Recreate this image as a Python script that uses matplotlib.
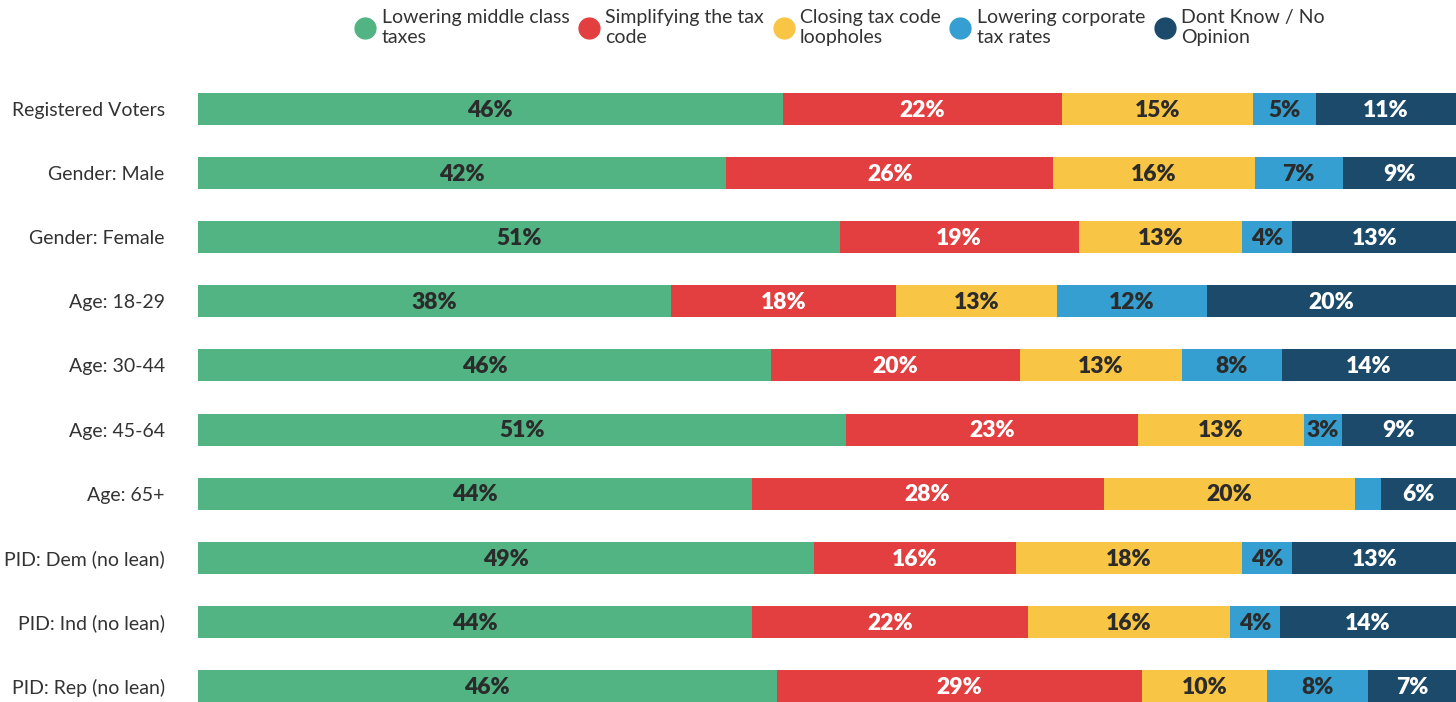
import numpy as np
import matplotlib.pyplot as plt
from matplotlib.lines import Line2D

plt.rcParams['font.family'] = ['Lato', 'DejaVu Sans']

# data
groups = ['Registered Voters', 'Gender: Male', 'Gender: Female', 'Age: 18-29',
          'Age: 30-44', 'Age: 45-64', 'Age: 65+', 'PID: Dem (no lean)',
          'PID: Ind (no lean)', 'PID: Rep (no lean)']
series = ['Lowering middle class\ntaxes', 'Simplifying the tax\ncode',
          'Closing tax code\nloopholes', 'Lowering corporate\ntax rates',
          'Dont Know / No\nOpinion']
middle_class = [46, 42, 51, 38, 46, 51, 44, 49, 44, 46]
simplifying = [22, 26, 19, 18, 20, 23, 28, 16, 22, 29]
loopholes = [15, 16, 13, 13, 13, 13, 20, 18, 16, 10]
corporate = [5, 7, 4, 12, 8, 3, 2, 4, 4, 8]
dont_know = [11, 9, 13, 20, 14, 9, 6, 13, 14, 7]

colors = ['#52B383', '#E33F40', '#F8C545', '#349FD0', '#1B4A6A']
text_colors = ['#2b2b2b', 'white', '#2b2b2b', '#2b2b2b', 'white']

data = np.array([middle_class, simplifying, loopholes, corporate, dont_know], dtype=float)
shares = data / data.sum(axis=0) * 100  # fill the full width per row

fig = plt.figure(figsize=(14.56, 7.02), dpi=100)
ax = fig.add_axes([198/1456, 0, 1 - 198/1456, 1 - 77/702])

y = np.arange(len(groups))
left = np.zeros(len(groups))
for k in range(len(series)):
    ax.barh(y, shares[k], left=left, height=0.5, color=colors[k], edgecolor='none')
    for i in range(len(groups)):
        if data[k][i] >= 3:
            ax.text(left[i] + shares[k][i] / 2, y[i] + 0.02, '%d%%' % data[k][i],
                    ha='center', va='center', fontsize=16.5, fontweight='heavy',
                    color=text_colors[k])
    left = left + shares[k]

ax.set_xlim(0, 100)
ax.set_ylim(9.25, -0.5)
ax.set_yticks(y)
ax.set_yticklabels(groups, fontsize=14, color='#333333')
ax.tick_params(axis='y', length=0, pad=24)
ax.set_xticks([])
for s in ax.spines.values():
    s.set_visible(False)

handles = [Line2D([], [], marker='o', linestyle='none', markersize=15,
                  markerfacecolor=c, markeredgecolor=c) for c in colors]
fig.legend(handles, series, loc='upper center', bbox_to_anchor=(0.577, 1.012),
           ncol=5, frameon=False, fontsize=14, handlelength=1.0,
           handletextpad=0.35, columnspacing=0.5, labelcolor='#333333')

plt.savefig('out.png', dpi=100)
